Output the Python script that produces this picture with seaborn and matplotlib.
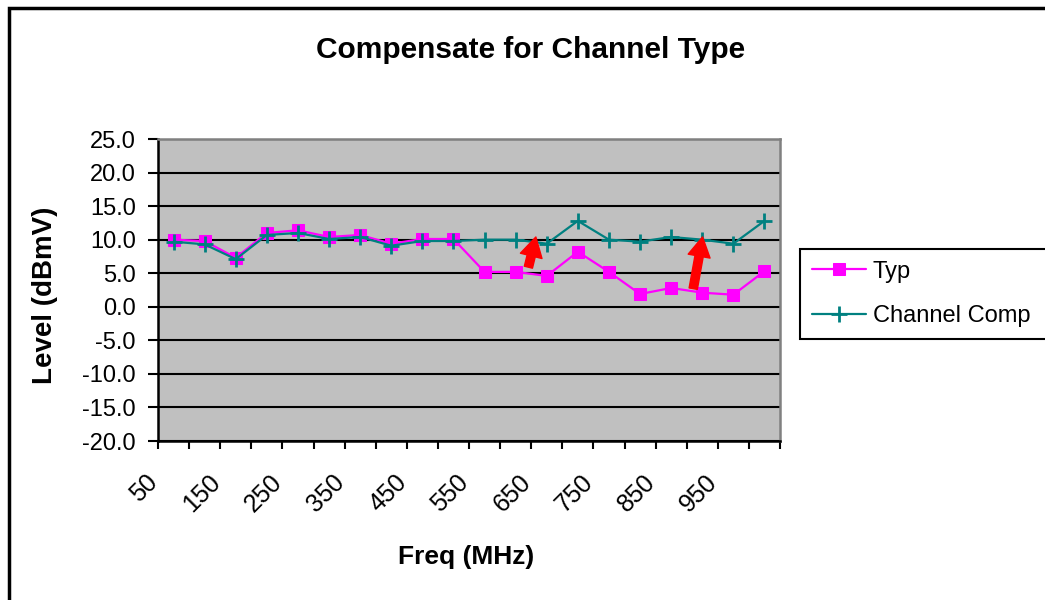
import numpy as np
import pandas as pd
import matplotlib
matplotlib.use("Agg")
import matplotlib.pyplot as plt
from matplotlib.patches import Rectangle
import matplotlib.transforms as mtransforms
import seaborn as sns

# ---- data ----
freqs = [50, 100, 150, 200, 250, 300, 350, 400, 450, 500,
         550, 600, 650, 700, 750, 800, 850, 900, 950, 1000]
typ = [10.0, 9.8, 7.3, 11.0, 11.4, 10.4, 10.7, 9.4, 10.1, 10.1,
       5.2, 5.2, 4.6, 8.2, 5.2, 1.9, 2.8, 2.1, 1.8, 5.3]
channel_comp = [9.7, 9.3, 7.1, 10.7, 11.0, 10.1, 10.4, 9.1, 9.8, 9.8,
                10.0, 10.0, 9.4, 12.8, 10.0, 9.7, 10.4, 10.0, 9.4, 12.8]
tick_labels = ["50", "150", "250", "350", "450", "550", "650", "750", "850", "950"]
y_ticks = [-20, -15, -10, -5, 0, 5, 10, 15, 20, 25]

sns.set_style("white")
plt.rcParams["font.family"] = ["Liberation Sans", "DejaVu Sans"]
plt.rcParams["text.color"] = "black"
plt.rcParams["xtick.color"] = "black"
plt.rcParams["ytick.color"] = "black"
plt.rcParams["axes.labelcolor"] = "black"

W, H = 1045, 600
fig = plt.figure(figsize=(W / 100, H / 100), dpi=100)
fig.patch.set_facecolor("white")

ax = fig.add_axes([158 / W, 1 - 441 / H, 622 / W, 302 / H])
ax.set_facecolor("#C0C0C0")

idx = np.arange(len(freqs))
df = pd.DataFrame({"idx": idx, "Typ": typ, "Channel Comp": channel_comp})

sns.lineplot(data=df, x="idx", y="Typ", ax=ax, color="#FF00FF", linewidth=1.6,
             marker="s", markersize=9, markeredgecolor="#FF00FF",
             markerfacecolor="#FF00FF", label="Typ", zorder=4)
sns.lineplot(data=df, x="idx", y="Channel Comp", ax=ax, color="#008080", linewidth=1.6,
             marker="+", markersize=11, markeredgewidth=2, markeredgecolor="#008080",
             label="Channel Comp", zorder=5)

ax.set_xlim(-0.5, len(freqs) - 0.5)
ax.set_ylim(-20, 25)

# y axis
ax.set_yticks(y_ticks)
ax.set_yticklabels([f"{v:.1f}" for v in y_ticks])
ax.yaxis.grid(True, color="black", linewidth=1.5)
ax.xaxis.grid(False)
ax.set_axisbelow(True)
ax.tick_params(axis="y", which="major", direction="out", length=7, width=1.5,
               color="black", labelsize=17, labelcolor="black", pad=9, left=True)

# x axis: tick marks between categories, labels every other category
ax.set_xticks(np.arange(-0.5, len(freqs), 1.0))
ax.set_xticklabels([])
ax.tick_params(axis="x", which="major", direction="out", length=6, width=1.5,
               color="black", bottom=True)
ax.set_xticks(idx[::2], minor=True)
ax.set_xticklabels(tick_labels, minor=True, rotation=45, ha="right", va="top")
ax.tick_params(axis="x", which="minor", length=0, labelsize=18, labelcolor="black", pad=21)
offset = mtransforms.ScaledTranslation(-11 / 100, 0, fig.dpi_scale_trans)
for lab in ax.get_xticklabels(minor=True):
    lab.set_transform(lab.get_transform() + offset)

for side in ["left", "bottom"]:
    ax.spines[side].set_color("black")
    ax.spines[side].set_linewidth(1.8)
for side in ["top", "right"]:
    ax.spines[side].set_color("#808080")
    ax.spines[side].set_linewidth(1.8)
    ax.spines[side].set_visible(True)

ax.set_xlabel("")
ax.set_ylabel("")

# red arrows (annotations)
arrow_kw = dict(width=6, headwidth=16, headlength=14, color="red", shrink=0)
ax.annotate("", xy=(11.65, 10.4), xytext=(11.41, 5.9), arrowprops=arrow_kw, zorder=6)
ax.annotate("", xy=(17.01, 10.4), xytext=(16.71, 2.7), arrowprops=arrow_kw, zorder=6)

# legend
leg = ax.legend(loc="upper left", bbox_to_anchor=(800 / W, 1 - 340 / H, 262 / W, 91 / H),
                bbox_transform=fig.transFigure, mode="expand", fontsize=17, frameon=True,
                fancybox=False, edgecolor="black", framealpha=1,
                handlelength=2.3, handletextpad=0.3, labelspacing=0.95,
                borderpad=0.49, borderaxespad=0)
leg.get_frame().set_linewidth(1.5)
for t in leg.get_texts():
    t.set_color("black")

# titles
fig.text(531 / W, 1 - 50 / H, "Compensate for Channel Type", ha="center", va="center",
         fontsize=21.5, fontweight="bold", color="black")
fig.text(45 / W, 1 - 295 / H, "Level (dBmV)", ha="center", va="center",
         rotation=90, fontsize=20, fontweight="bold", color="black")
fig.text(466 / W, 1 - 557 / H, "Freq (MHz)", ha="center", va="center",
         fontsize=19, fontweight="bold", color="black")

# outer chart border
fig.patches.append(Rectangle((9 / W, -0.1), 1.2, 1.1 - 8 / H, transform=fig.transFigure,
                             fill=False, edgecolor="black", linewidth=2.5, figure=fig))

fig.savefig("out.png", dpi=100)
